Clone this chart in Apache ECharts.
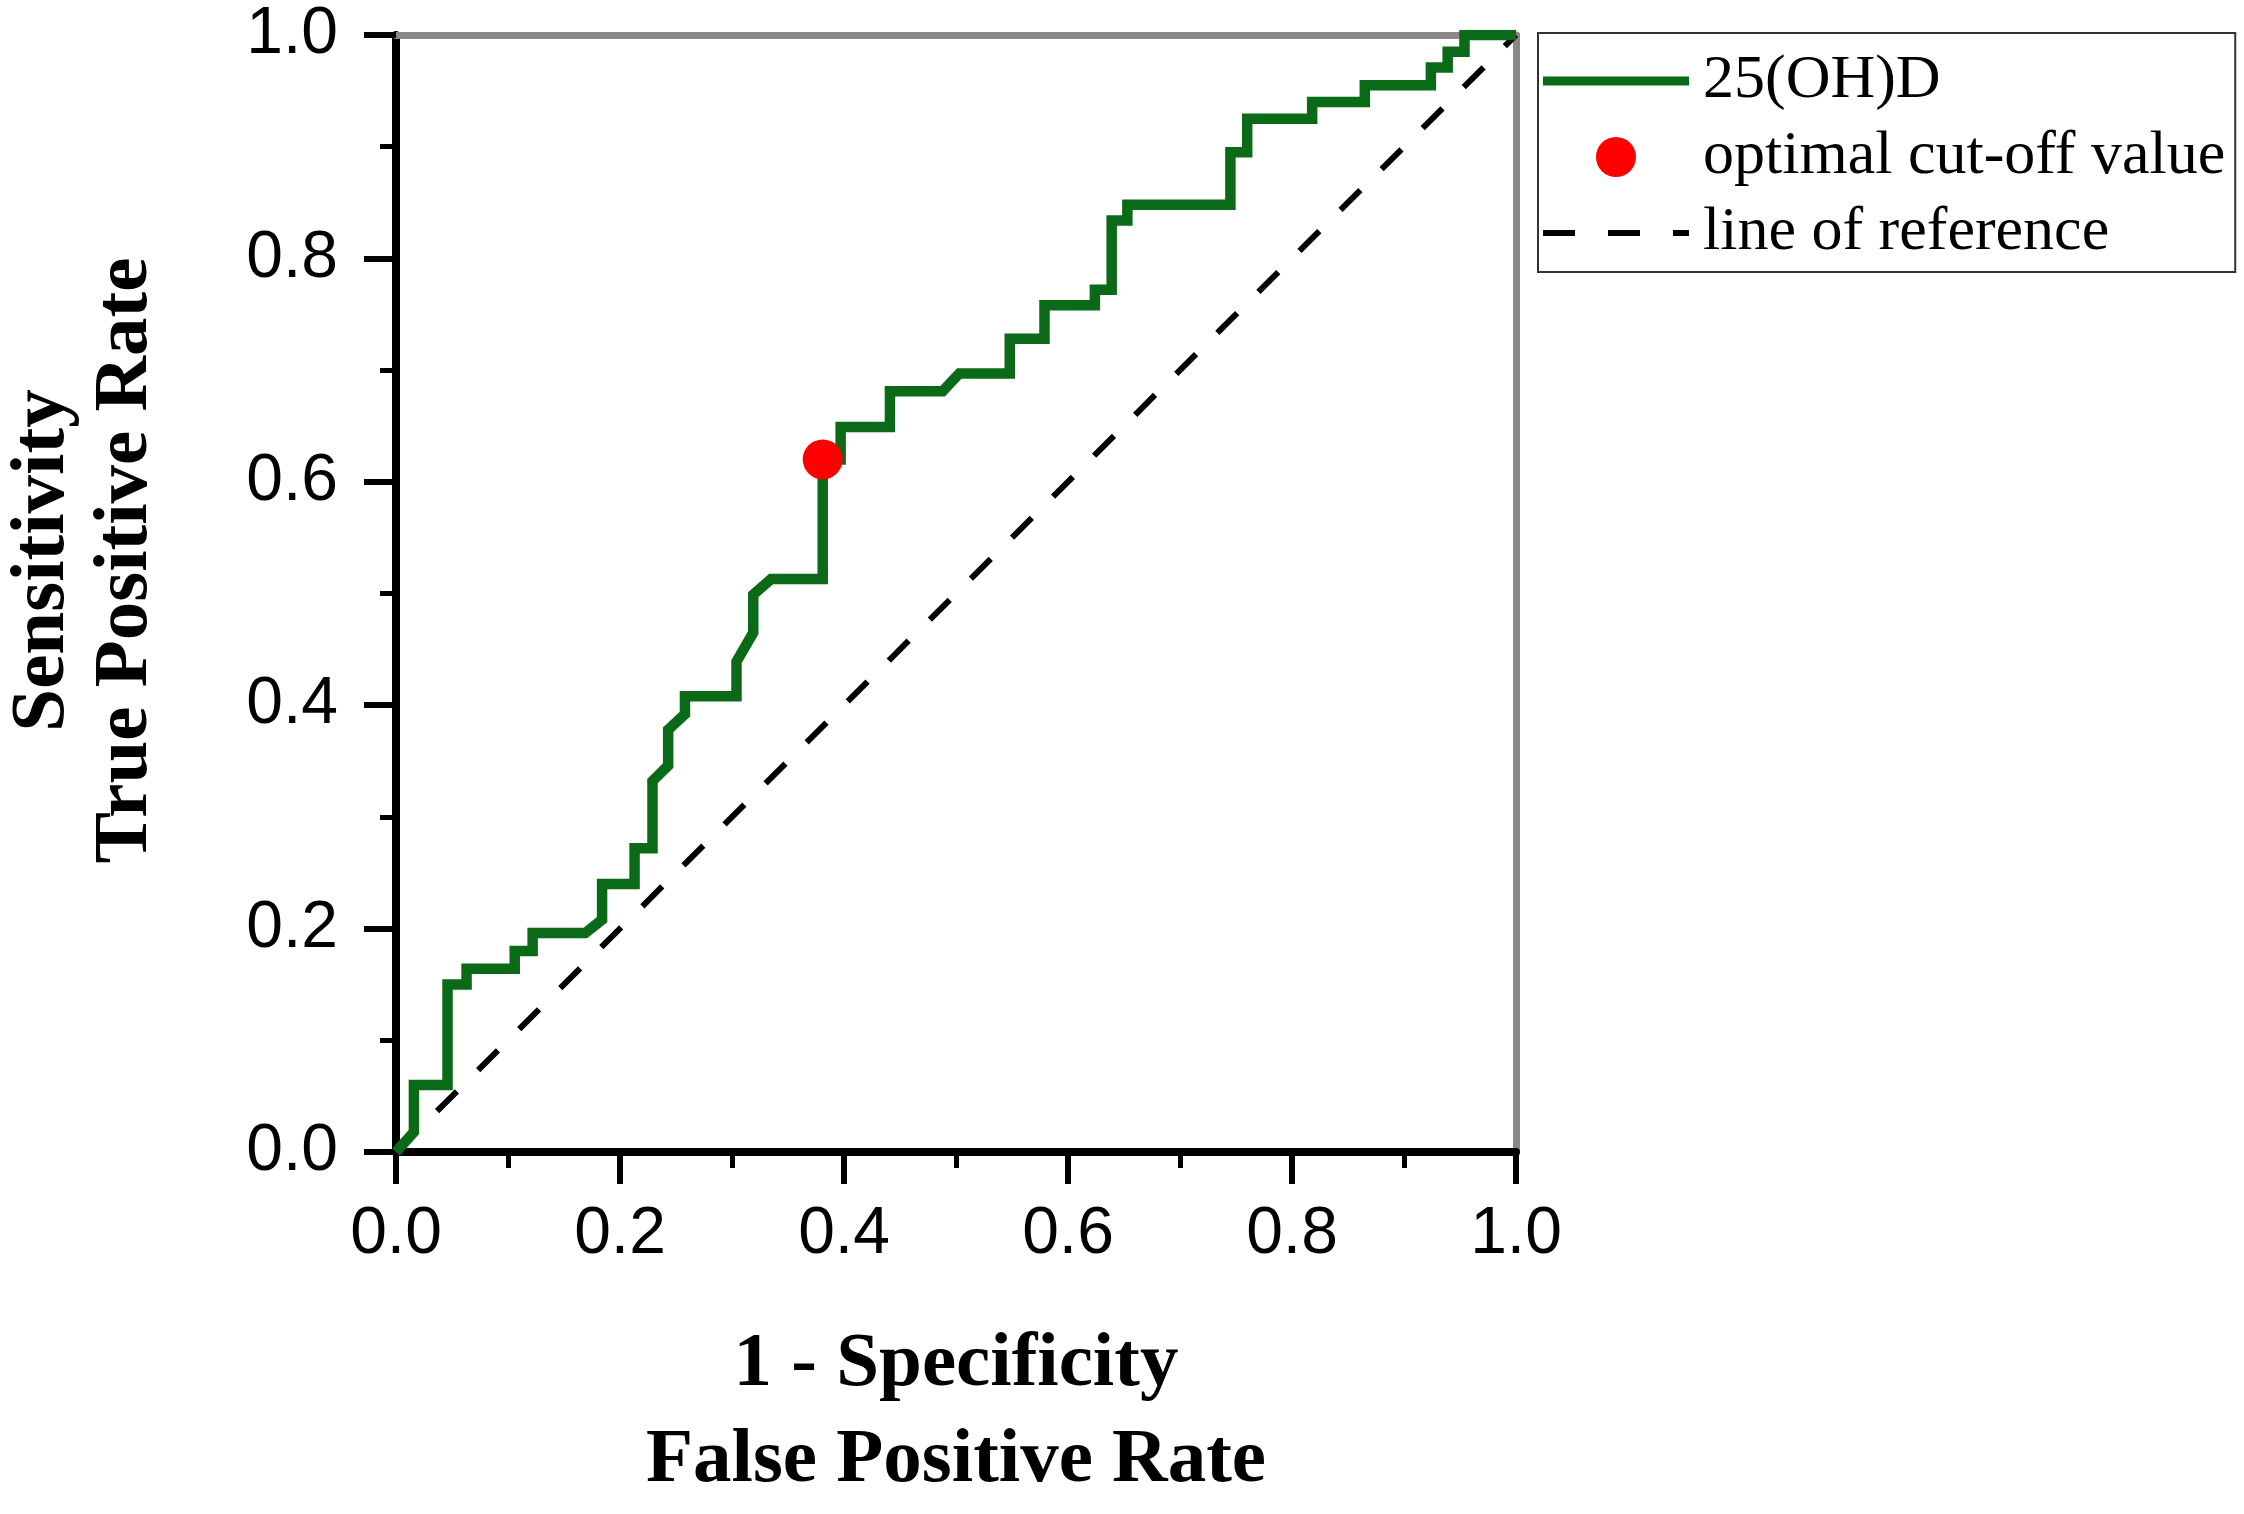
<!DOCTYPE html>
<html>
<head>
<meta charset="utf-8">
<script src="https://cdn.jsdelivr.net/npm/echarts@6/dist/echarts.min.js"></script>
<style>
html,body{margin:0;padding:0;background:#fff;}
#chart{width:2244px;height:1514px;}
</style>
</head>
<body>
<div id="chart"></div>
<script>
// ROC curve vertices: [1 - specificity, sensitivity]
const rocFPR = [0, 0.016, 0.016, 0.046, 0.046, 0.063, 0.063, 0.106, 0.106, 0.122, 0.122, 0.169, 0.184, 0.184, 0.213, 0.213, 0.229, 0.229, 0.243, 0.243, 0.258, 0.258, 0.304, 0.304, 0.319, 0.319, 0.335, 0.381, 0.381, 0.397, 0.397, 0.441, 0.441, 0.488, 0.503, 0.548, 0.548, 0.579, 0.579, 0.624, 0.624, 0.639, 0.639, 0.653, 0.653, 0.745, 0.745, 0.760, 0.760, 0.818, 0.818, 0.865, 0.865, 0.924, 0.924, 0.939, 0.939, 0.954, 0.954, 1.0];
const rocTPR = [0, 0.018, 0.060, 0.060, 0.150, 0.150, 0.164, 0.164, 0.180, 0.180, 0.196, 0.196, 0.208, 0.240, 0.240, 0.272, 0.272, 0.332, 0.346, 0.378, 0.392, 0.408, 0.408, 0.439, 0.465, 0.499, 0.513, 0.513, 0.620, 0.620, 0.649, 0.649, 0.681, 0.681, 0.697, 0.697, 0.728, 0.728, 0.758, 0.758, 0.772, 0.772, 0.834, 0.834, 0.848, 0.848, 0.895, 0.895, 0.925, 0.925, 0.940, 0.940, 0.955, 0.955, 0.971, 0.971, 0.985, 0.985, 1.0, 1.0];
const cutoffPoint = [0.381, 0.620];
const refFPR = [0, 1];
const refTPR = [0, 1];
const tickLabels = ['0.0', '0.2', '0.4', '0.6', '0.8', '1.0'];
const seriesNames = ['25(OH)D', 'optimal cut-off value', 'line of reference'];

const rocData = rocFPR.map((x, i) => [x, rocTPR[i]]);
const refData = refFPR.map((x, i) => [x, refTPR[i]]);

const chart = echarts.init(document.getElementById('chart'), null, {renderer: 'canvas'});

const tickFmt = v => {
  const k = Math.round(v / 0.2);
  return Math.abs(v / 0.2 - k) < 1e-6 && tickLabels[k] !== undefined ? tickLabels[k] : '';
};

const mainAxisCommon = {
  type: 'value', min: 0, max: 1, interval: 0.2,
  splitLine: {show: false},
  axisLine: {show: true, onZero: false, lineStyle: {color: '#000', width: 8}},
  axisTick: {show: true, inside: false, length: 32, lineStyle: {color: '#000', width: 6}},
  minorTick: {show: true, splitNumber: 2, length: 16, lineStyle: {color: '#000', width: 5}},
  axisLabel: {color: '#000', fontFamily: 'Liberation Sans', fontSize: 66, formatter: tickFmt}
};
const frameAxis = {
  type: 'value', min: 0, max: 1,
  splitLine: {show: false},
  axisLine: {show: true, onZero: false, lineStyle: {color: '#888888', width: 7}},
  axisTick: {show: false}, axisLabel: {show: false}
};

chart.setOption({
  animation: false,
  backgroundColor: '#fff',
  grid: {left: 396, right: 728, top: 35, bottom: 360, containLabel: false},
  xAxis: [
    Object.assign({}, mainAxisCommon, {
      position: 'bottom',
      axisLabel: Object.assign({}, mainAxisCommon.axisLabel, {margin: 50}),
      name: '1 - Specificity\nFalse Positive Rate',
      nameLocation: 'middle', nameGap: 165,
      nameTextStyle: {fontFamily: 'Liberation Serif', fontWeight: 'bold', fontSize: 77, lineHeight: 96, color: '#000'}
    }),
    Object.assign({}, frameAxis, {position: 'top'})
  ],
  yAxis: [
    Object.assign({}, mainAxisCommon, {
      position: 'left',
      axisLabel: Object.assign({}, mainAxisCommon.axisLabel, {margin: 58}),
      name: 'Sensitivity\nTrue Positive Rate',
      nameLocation: 'middle', nameGap: 228, nameRotate: 90,
      nameTextStyle: {fontFamily: 'Liberation Serif', fontWeight: 'bold', fontSize: 77, lineHeight: 83, color: '#000', padding: [0, 0, 0, 66]}
    }),
    Object.assign({}, frameAxis, {position: 'right'})
  ],
  legend: {
    orient: 'vertical',
    left: 1538, top: 33,
    padding: [17, 10, 8, 5],
    itemGap: 14,
    itemWidth: 146, itemHeight: 40,
    borderColor: '#333', borderWidth: 2,
    backgroundColor: '#fff',
    textStyle: {fontFamily: 'Liberation Serif', fontSize: 62, color: '#000', padding: [0, 0, 0, 9]},
    data: [
      {name: seriesNames[0], icon: 'path://M0,0h146v9h-146z'},
      {name: seriesNames[1], icon: 'circle', itemStyle: {opacity: 1}},
      {name: seriesNames[2], icon: 'path://M0,0h32v6h-32z M65,0h32v6h-32z M130,0h16v6h-16z'}
    ]
  },
  series: [
    {
      name: seriesNames[2], type: 'line', xAxisIndex: 0, yAxisIndex: 0,
      data: refData, symbol: 'none', z: 1,
      color: '#000',
      lineStyle: {color: '#000', width: 6, type: [28, 30]}
    },
    {
      name: seriesNames[0], type: 'line', xAxisIndex: 0, yAxisIndex: 0,
      data: rocData, symbol: 'none', z: 2,
      color: '#0b6a17',
      lineStyle: {color: '#0b6a17', width: 10.5, join: 'miter'}
    },
    {
      name: seriesNames[1], type: 'scatter', xAxisIndex: 0, yAxisIndex: 0,
      data: [cutoffPoint], symbol: 'circle', symbolSize: 40, z: 3,
      color: '#ff0000',
      itemStyle: {color: '#ff0000', opacity: 1}
    }
  ]
});
</script>
</body>
</html>
